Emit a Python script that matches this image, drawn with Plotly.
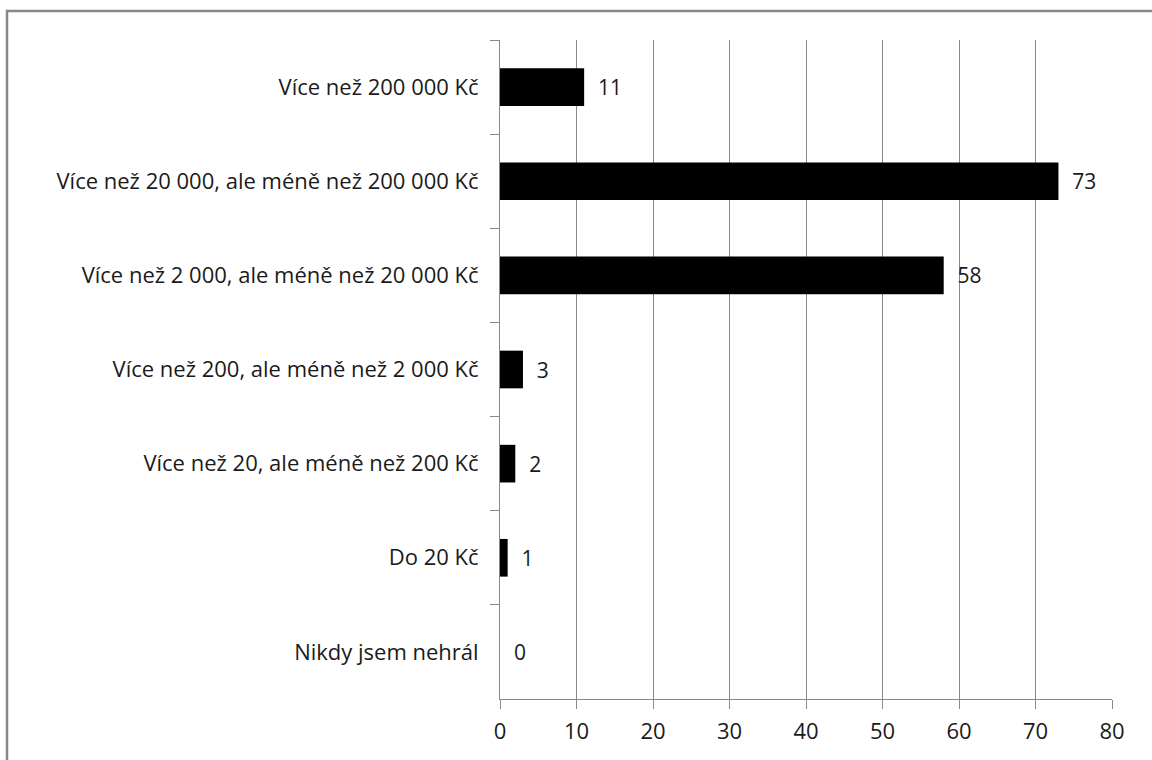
import plotly.graph_objects as go

categories = [
    "Více než 200 000 Kč",
    "Více než 20 000, ale méně než 200 000 Kč",
    "Více než 2 000, ale méně než 20 000 Kč",
    "Více než 200, ale méně než 2 000 Kč",
    "Více než 20, ale méně než 200 Kč",
    "Do 20 Kč",
    "Nikdy jsem nehrál",
]
values = [11, 73, 58, 3, 2, 1, 0]
x_ticks = [0, 10, 20, 30, 40, 50, 60, 70, 80]

FONT = "Open Sans"
TXT = "#1a1a1a"
GRID = "#8a8a8a"

fig = go.Figure(
    go.Bar(
        x=values,
        y=categories,
        orientation="h",
        marker=dict(color="#000000", line=dict(width=0)),
        text=["\u00a0\u00a0" + str(v) for v in values],
        textposition="outside",
        textfont=dict(family=FONT, size=21, color=TXT),
        cliponaxis=False,
    )
)

fig.update_layout(
    width=1152,
    height=760,
    margin=dict(l=500, r=40, t=40, b=61),
    paper_bgcolor="white",
    plot_bgcolor="white",
    bargap=0.6,
    showlegend=False,
    font=dict(family=FONT, size=21, color=TXT),
    xaxis=dict(
        range=[0, 80],
        tickvals=x_ticks,
        ticktext=[str(t) for t in x_ticks],
        showgrid=True,
        gridcolor=GRID,
        gridwidth=1,
        showline=True,
        linecolor=GRID,
        linewidth=1,
        ticks="outside",
        ticklen=9,
        tickcolor=GRID,
        zeroline=False,
        fixedrange=True,
        ticklabelstandoff=4,
        tickfont=dict(size=22),
    ),
    yaxis=dict(
        categoryorder="array",
        categoryarray=categories,
        autorange="reversed",
        showgrid=False,
        showline=True,
        linecolor=GRID,
        linewidth=1,
        ticks="outside",
        tickson="boundaries",
        ticklen=9,
        tickcolor=GRID,
        zeroline=False,
        ticklabelstandoff=16,
        tickfont=dict(size=22),
    ),
    shapes=[
        dict(
            type="rect",
            xref="paper", yref="paper",
            xsizemode="pixel", ysizemode="pixel",
            xanchor=0, yanchor=1,
            x0=-493, x1=800, y0=29, y1=-900,
            line=dict(color="#888888", width=2.5),
            fillcolor="rgba(0,0,0,0)",
            layer="below",
        )
    ],
)

fig.write_html("out.html")
